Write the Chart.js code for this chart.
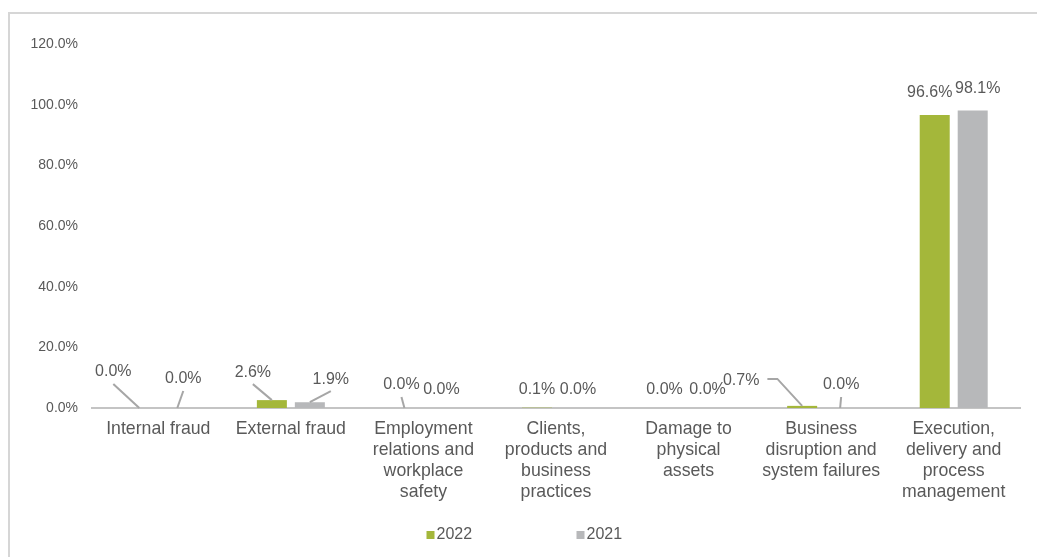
<!DOCTYPE html>
<html>
<head>
<meta charset="utf-8">
<script src="https://cdn.jsdelivr.net/npm/chart.js@4.4.1/dist/chart.umd.min.js"></script>
<style>
  html, body { margin: 0; padding: 0; background: #fff; }
  #wrap { position: relative; width: 1037px; height: 557px; overflow: hidden; }
  #frame { position: absolute; left: 8px; top: 12px; right: -4px; bottom: -4px;
           border-top: 2px solid #d6d6d6; border-left: 2px solid #d6d6d6; }
  canvas { position: absolute; left: 0; top: 0; }
</style>
</head>
<body>
<div id="wrap">
  <div id="frame"></div>
  <canvas id="chart" width="1037" height="557"></canvas>
</div>
<script>
// Data
const categories = [
    'Internal fraud',
    'External fraud',
    ['Employment', 'relations and', 'workplace', 'safety'],
    ['Clients,', 'products and', 'business', 'practices'],
    ['Damage to', 'physical', 'assets'],
    ['Business', 'disruption and', 'system failures'],
    ['Execution,', 'delivery and', 'process', 'management']
];
const seriesNames = ['2022', '2021'];
const values2022 = [0.0, 2.6, 0.0, 0.1, 0.0, 0.7, 96.6];
const values2021 = [0.0, 1.9, 0.0, 0.0, 0.0, 0.0, 98.1];
const yTicks = [0, 20, 40, 60, 80, 100, 120];

// Colours / fonts
const GREEN = '#a4b73a';
const GREY = '#b7b8ba';
const TEXT = '#595959';
const FONT = '"Liberation Sans", Arial, sans-serif';

// Label placement relative to bar top: [dx, dy, leader] (0 none, 1 below text, 2 elbow from right)
const labelPlace = [
    [[-26, -36, 1], [-19, -28, 1], [-3, -23, 1], [0, -18, 0], [-5, -18, 0], [-61, -25, 2], [-5, -22, 0]],
    [[6, -29, 1], [21, -23, 1], [-1, -18, 0], [3, -18, 0], [0, -18, 0], [1, -23, 1], [5, -22, 0]]
];

const valueLabels = {
    id: 'valueLabels',
    afterDatasetsDraw(chart) {
        const ctx = chart.ctx;
        ctx.save();
        ctx.font = '16px ' + FONT;
        ctx.textAlign = 'center';
        ctx.textBaseline = 'middle';
        chart.data.datasets.forEach((ds, i) => {
            chart.getDatasetMeta(i).data.forEach((bar, j) => {
                const [dx, dy, lead] = labelPlace[i][j];
                const tx = bar.x + dx, ty = bar.y + dy;
                const text = ds.data[j].toFixed(1) + '%';
                ctx.strokeStyle = '#a6a6a6';
                ctx.lineWidth = 2;
                if (lead === 1) {
                    ctx.beginPath();
                    ctx.moveTo(tx, ty + 12);
                    ctx.lineTo(bar.x, bar.y);
                    ctx.stroke();
                } else if (lead === 2) {
                    const sx = tx + ctx.measureText(text).width / 2 + 8;
                    ctx.beginPath();
                    ctx.moveTo(sx, ty - 2);
                    ctx.lineTo(sx + 10, ty - 2);
                    ctx.lineTo(bar.x, bar.y);
                    ctx.stroke();
                }
                ctx.fillStyle = TEXT;
                ctx.fillText(text, tx, ty);
            });
        });
        ctx.restore();
    }
};

const bottomLegend = {
    id: 'bottomLegend',
    afterDraw(chart) {
        const ctx = chart.ctx;
        const cx = chart.width / 2;
        const y = 535;
        const starts = [cx - 92, cx + 58];
        ctx.save();
        ctx.font = '16px ' + FONT;
        ctx.textBaseline = 'middle';
        ctx.textAlign = 'left';
        chart.data.datasets.forEach((ds, i) => {
            ctx.fillStyle = ds.backgroundColor;
            ctx.fillRect(starts[i], y - 4, 8, 8);
            ctx.fillStyle = TEXT;
            ctx.fillText(ds.label, starts[i] + 10, y);
        });
        ctx.restore();
    }
};

new Chart(document.getElementById('chart'), {
    type: 'bar',
    data: {
        labels: categories,
        datasets: [
            { label: seriesNames[0], data: values2022, backgroundColor: GREEN },
            { label: seriesNames[1], data: values2021, backgroundColor: GREY }
        ]
    },
    options: {
        responsive: false,
        animation: false,
        layout: { padding: { top: 44, right: 17, left: 0, bottom: 0 } },
        datasets: { bar: { categoryPercentage: 0.573, barPercentage: 0.79 } },
        plugins: {
            legend: { display: false },
            tooltip: { enabled: false }
        },
        scales: {
            x: {
                grid: { display: false, drawTicks: false },
                border: { display: true, color: '#c4c4c4', width: 2 },
                ticks: {
                    color: TEXT,
                    font: { family: FONT, size: 17.7, lineHeight: '21px' },
                    padding: 11,
                    maxRotation: 0,
                    autoSkip: false
                },
                afterFit: (scale) => { scale.height = 149; }
            },
            y: {
                min: 0,
                max: 120,
                grid: { display: false, drawTicks: false },
                border: { display: false },
                ticks: {
                    color: TEXT,
                    font: { family: FONT, size: 14 },
                    padding: 14,
                    callback: (v) => v.toFixed(1) + '%'
                },
                afterBuildTicks: (scale) => { scale.ticks = yTicks.map(v => ({ value: v })); },
                afterFit: (scale) => { scale.width = 92; }
            }
        }
    },
    plugins: [valueLabels, bottomLegend]
});
</script>
</body>
</html>
